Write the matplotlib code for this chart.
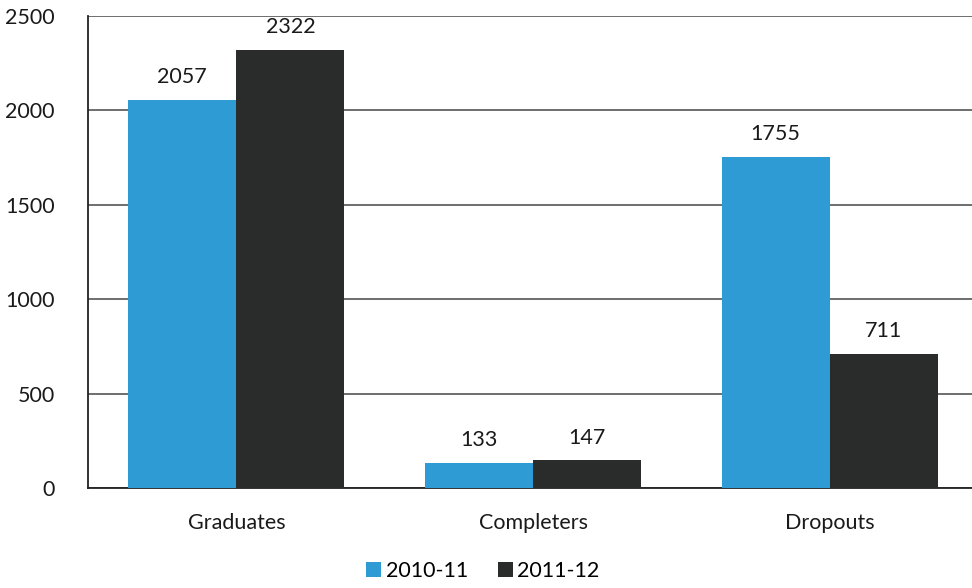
import matplotlib.pyplot as plt
import numpy as np

categories = ['Graduates', 'Completers', 'Dropouts']
series_names = ['2010-11', '2011-12']
values_2010 = [2057, 133, 1755]
values_2011 = [2322, 147, 711]
yticks = [0, 500, 1000, 1500, 2000, 2500]

plt.rcParams['font.family'] = ['Lato', 'DejaVu Sans']

blue = '#2f9bd5'
dark = '#2a2b2b'
fs = 15.5

fig = plt.figure(figsize=(9.72, 5.88), dpi=100)
ax = fig.add_axes([88 / 972, 100 / 588, 890 / 972, 472 / 588])

x = np.arange(len(categories))
w = 0.364
b1 = ax.bar(x - w / 2, values_2010, w, color=blue, label=series_names[0], zorder=3)
b2 = ax.bar(x + w / 2, values_2011, w, color=dark, label=series_names[1], zorder=3)

for bars, vals in ((b1, values_2010), (b2, values_2011)):
    for r, v in zip(bars, vals):
        ax.annotate(str(v), (r.get_x() + r.get_width() / 2, v), xytext=(0, 9),
                    textcoords='offset points', ha='center', va='bottom',
                    fontsize=fs, color='#1a1a1a')

ax.set_xlim(-0.5, 2.5)
ax.set_ylim(0, 2500)
ax.set_yticks(yticks)
ax.yaxis.grid(True, color='#555555', linewidth=1.2, zorder=0)
ax.tick_params(axis='y', length=0, pad=24, labelsize=fs, labelcolor='#1a1a1a')
ax.set_xticks(x)
ax.set_xticklabels(categories)
ax.tick_params(axis='x', length=0, pad=18, labelsize=fs, labelcolor='#1a1a1a')

for s in ['top', 'right']:
    ax.spines[s].set_visible(False)
ax.spines['left'].set_color('#222222')
ax.spines['left'].set_linewidth(1.3)
ax.spines['bottom'].set_color('#222222')
ax.spines['bottom'].set_linewidth(1.3)

fig.legend(handles=[b1, b2], loc='center', bbox_to_anchor=(483 / 972, 1 - 571 / 588),
           ncol=2, frameon=False, fontsize=fs, handlelength=0.7, handleheight=0.7,
           handletextpad=0.2, columnspacing=1.4)

fig.savefig('out.png', dpi=100)
